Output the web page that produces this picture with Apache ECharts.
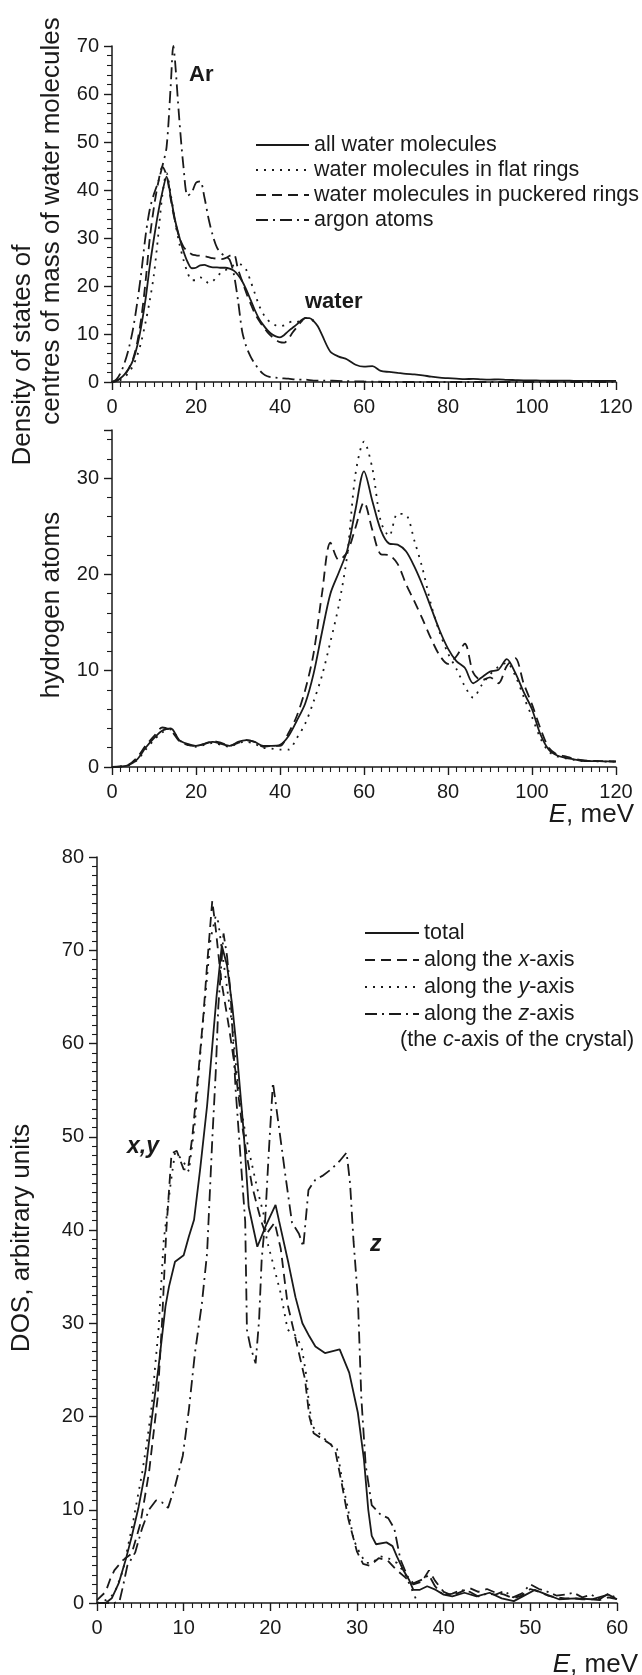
<!DOCTYPE html>
<html lang="en">
<head>
<meta charset="UTF-8">
<title>DOS of water and argon</title>
<script src="https://cdn.jsdelivr.net/npm/echarts@6/dist/echarts.min.js"></script>
<style>
    html, body { margin: 0; padding: 0; background: #fff; }
    #chart { width: 642px; height: 1675px; }
</style>
</head>
<body>
<div id="chart"></div>
<script>
// ---- panel 1: centres of mass of water molecules + argon ----
const p1E = [0,1,2,3,4,5,6,7,8,9,10,11,12,13,14,15,16,17,18,19,20,21,22,23,24,25,26,27,28,29,30,31,32,33,34,35,36,37,38,39,40,41,42,43,44,45,46,47,48,49,50,
    52,54,56,58,60,62,64,66,68,70,72,74,76,78,80,82,84,86,88,90,92,94,96,98,100,102,104,106,108,110,112,114,116,118,120];
const allWater = [0,0.3,0.8,1.6,2.8,4.5,7.5,11.8,17.3,24.2,
    30,35.3,39.6,42.8,38.5,33.8,30.3,27.3,25,23.7,
    23.8,24.3,24.4,24.1,23.9,23.9,23.8,23.8,23.6,23.2,
    22.3,21,19.2,17.1,15,13.2,11.9,10.8,10,9.5,
    9.3,9.8,10.6,11.3,12,12.8,13.3,13.3,12.7,11.6,9.8,
    6.3,5.3,4.7,3.6,3.2,3.3,2.3,2.1,1.9,1.7,
    1.6,1.4,1.1,0.9,0.8,0.7,0.6,0.65,0.55,0.5,
    0.55,0.45,0.4,0.35,0.35,0.3,0.3,0.3,0.3,0.25,
    0.25,0.25,0.25,0.25,0.25];
const flatRings = [0,0.1,0.4,1,2,3.4,5.5,8.5,12.5,17,
    22.5,30.5,39,43.5,39,33.5,29,25.5,22.8,21.2,
    21.2,21.8,21.4,20.6,21,22,22.8,23.3,23.8,24.3,
    24.5,24.4,23.3,21,18.5,16,14.2,13,12.2,11.8,
    11.6,11.8,12.3,12.6,12.5,12.8,13.3,13.3,12.7];
const puckeredRings = [0,0.2,0.7,1.5,2.8,4.8,8.2,13.5,21,30,
    36.5,41.5,44.8,43,38,33.5,30.2,28.2,27.2,26.6,
    26.4,26.3,26.2,26,25.8,25.7,25.6,25.8,26.3,26.6,
    23.5,21,18.5,16.3,14.3,12.8,11.5,10.4,9.5,8.8,
    8.3,8.2,9,10.3,11.4,12.5,13.3,13.3,12.7];
const argonE = [0,1,2,3,4,5,6,7,8,9,10,11,12,13,14,14.6,15,16,17,18,19,20,21,22,23,24,25,26,27,28,29,30,31,32,33,34,35,36,37,38,39,40,
    42,44,46,48,50,55,60,70,80,100,120];
const argon = [0,0.5,1.8,4,7,11,16.5,23,30.5,36,
    39.2,41.7,45,49,62,70,67,55,45,38.8,
    39.5,41.5,41.8,38.5,34,30.5,28,26.8,26.2,25.5,
    22.5,17,10.5,7.3,5.3,3.8,2.6,1.7,1.2,1,
    0.9,0.8,0.7,0.5,0.5,0.3,0.3,0.2,0.1,0,
    0,0,0];

// ---- panel 2: hydrogen atoms ----
const p2E = [0,2,4,6,8,10,12,14,16,18,20,22,24,26,28,30,32,34,36,38,40,42,44,46,48,50,52,54,56,58,
    60,62,64,66,68,70,72,74,76,78,80,82,84,86,88,90,92,94,96,98,100,102,104,106,108,110,112,114,116,118,120];
const hAll = [0,0.05,0.2,0.8,2,3,3.8,4,2.8,2.4,
    2.2,2.4,2.6,2.4,2.2,2.6,2.8,2.6,2.2,2.2,
    2.3,3.2,4.8,6.6,9.7,14,18,20.2,22.5,26.8,
    30.7,27.6,24.6,23.2,23.1,22.4,20.8,18.8,16.5,14.2,
    12.3,11,10.3,8.7,9.3,9.9,10.1,11.2,9.8,7.8,
    6,3.4,1.8,1.2,0.95,0.8,0.65,0.62,0.6,0.58,0.56];
const hFlat = [0,0.05,0.2,0.7,1.8,2.8,3.6,3.9,2.8,2.3,
    2.1,2.3,2.5,2.3,2.1,2.5,2.6,2.4,2,1.9,
    1.8,1.8,3,4.5,6.8,9.5,13,16.8,22,30.5,
    33.8,31,25.5,24,26.3,26.2,23.5,20.5,16.8,14,
    11.8,10.2,8.4,7.2,8.5,9.6,10.4,10.8,9.5,7.3,
    5.2,3,1.6,1.1,0.9,0.75,0.62,0.6,0.58,0.56,0.55];
const hPuckered = [0,0.05,0.25,1,2.2,3.2,4.1,3.8,2.7,2.3,
    2.2,2.4,2.7,2.5,2.2,2.5,2.8,2.6,2.1,2.2,
    2.2,3.5,5.3,8,11.8,18,23.3,21.5,22.3,24.9,
    27.5,24.6,22.1,22,21.1,19,17.2,15.3,13.3,11.6,
    10.7,11.5,12.8,9.8,9,9.3,8.7,10.5,11.3,8.7,
    6.5,4,2,1.3,1.1,0.85,0.7,0.65,0.62,0.6,0.58];

// ---- panel 3: directional DOS ----
const totalE = [0,1,1.7,2.5,3.3,4,4.8,5.6,6.3,7.1,7.9,8.3,9,10,10.6,11.2,11.9,12.7,13.3,13.8,
    14.4,15,15.6,16,16.5,16.9,17.5,18.5,19.5,20.6,21,22.1,22.9,23.7,24.5,25.2,26.3,28,29.1,30.1,
    30.8,31.3,31.7,32.2,33.4,34.1,34.6,35.3,36,36.5,37.2,38.1,39.1,40,41,42.4,43.8,45.3,46.7,48.1,
    49.5,50.5,51.9,53.3,55.2,57.1,59,60];
const total = [0,0,0.5,2.1,4.6,7.1,10.3,14.2,19.6,25.3,31.8,33.9,36.6,37.3,39.3,41.1,46.5,53.3,59.7,65.1,
    70.5,68.4,64.1,60.5,55.1,50.8,42.5,38.2,40.5,42.7,41,36.4,32.8,30,28.6,27.5,26.8,27.2,24.7,20.4,
    15.4,10,7.2,6.3,6.5,6.1,5,3.6,2.5,1.4,1.4,1.8,1.4,0.9,0.7,1.1,0.7,1.1,0.5,0.2,
    0.9,1.4,0.9,0.4,0.5,0.4,0.9,0.4];
const alongXE = [0,1,1.5,2,3,4,5,6,7,7.5,8,8.6,9.2,10,10.5,11,11.7,12.3,12.7,13.3,
    13.7,14.3,15.2,16,16.7,17.3,17.9,18.5,19,19.5,20.5,21.2,22,23,24,24.5,25,26,27,27.5,
    28.2,29,30,30.7,31.5,32.5,33.5,34.5,35.5,36.5,37.5,38.3,39,40,41,42,43,44,45,46,
    47,48,49,50,51,52,53,54,55,56,57,58,59,60];
const alongX = [0.3,1.2,2.5,3.5,4.6,5.3,8.5,14,22,30,40,48.2,48.5,46.5,46.5,50,56.9,63.3,68.4,75.3,
    72.3,67,61.9,56.9,51.5,47.9,44.7,42.5,40.8,39.5,40.8,38,32,28,24,20,18.2,17.6,17,16.3,
    13,9,5.5,4.2,4,4.8,4.6,3.6,2.8,2,2.3,3.5,2.4,1.2,0.8,1.2,1.6,1.2,1.5,1.1,
    0.9,0.5,0.8,1.5,1.2,0.8,0.6,0.5,0.5,0.4,0.4,0.3,0.6,0.4];
const alongYE = [0,1,2,3,4.2,5.2,5.8,6.3,6.7,7.1,7.7,8.5,9,9.8,10.6,11.3,11.9,12.5,13.1,13.7,
    14,14.4,15,15.6,16.3,16.9,17.5,18.1,18.7,19.2,19.6,20.2,21.2,22,22.9,23.6,24.1,24.4,24.8,25.5,
    26.7,27.7,28.4,28.9,29.6,30.3,31,31.7,32.7,33.6,34.6,35.5,36.3,37];
const alongY = [0,0.3,1,3.5,8.9,13.9,17.5,21,25.3,29.3,38.9,45,48.3,47.6,46.3,51.5,58.7,65.1,71.2,73.7,
    73,70.1,66,61.9,55.1,51.5,48.6,46.1,43.6,41.8,38.9,36.8,33.2,29.3,28.7,27.5,24.7,21.9,19,18.3,
    17.2,16.5,12.5,10.4,6.8,5.4,4.3,4.3,5,4.8,4.3,3.2,1.5,0];
const alongZE = [0,1,2,2.6,3,3.5,4.4,5.2,6,6.8,7.5,8.2,9,9.9,10.6,11.3,12.1,12.7,13.3,13.7,
    14,14.6,15,15.4,16,16.7,17.1,17.3,17.7,18.3,18.7,19,19.4,19.8,20.3,21,21.7,22.5,23.3,23.8,
    24.4,25.2,26,27,28,28.8,29.2,29.6,30.1,30.5,31,31.7,32.7,33.6,34.3,35,35.8,36.5,37.5,38.3,
    39,40,41,42,43,44,45,46,47,48,49,50,51,52,53,54,55,56,57,58,59,60];
const alongZ = [0,0,0,0.2,1.8,4,5.4,8,10,11,10.8,10.2,12.5,15.8,20.7,26.8,32.1,37.5,49.7,56.9,
    64,71.8,69.4,65.5,55,46,40.9,29.3,27.5,25.7,30.3,36.8,41,48,55.8,51,46.1,40.8,39.6,38.2,
    44.3,45.4,45.8,46.5,47.4,48.3,45,38.8,32.7,22,14.8,10.5,9.5,9.1,8,4.7,2.9,2.1,2.5,3,
    1.8,0.8,1,1.4,1.2,0.7,1,0.9,1.3,0.6,1,2,1.5,1.2,0.8,0.9,1.1,0.6,0.9,0.4,1,0.5];

const FONT = "'Liberation Sans', Arial, sans-serif";
const INK = '#1a1a1a';
const DOT = [2, 6], DASH = [10, 6], DASHDOT = [12, 5, 2, 5];

function pts(xs, ys) {
    return ys.map(function (v, i) { return [xs[i], v]; });
}

function xAx(gi, max, step, minor) {
    return {
        type: 'value', gridIndex: gi, min: 0, max: max, interval: step,
        axisLine: { lineStyle: { color: INK, width: 1.5 } },
        axisTick: { length: 8, lineStyle: { color: INK, width: 1.4 } },
        minorTick: { show: true, splitNumber: minor, length: 5, lineStyle: { color: INK, width: 1.1 } },
        splitLine: { show: false },
        axisLabel: { fontSize: 20, color: INK, fontFamily: FONT, margin: 15 }
    };
}

function yAx(gi, max, step, minor) {
    let a = xAx(gi, max, step, minor);
    a.axisLabel.margin = 13;
    a.axisLabel.showMaxLabel = (max % step === 0);
    return a;
}

function ln(name, gi, data, dash, smooth) {
    return {
        name: name, type: 'line', xAxisIndex: gi, yAxisIndex: gi, data: data,
        symbol: 'none', smooth: smooth, animation: false,
        lineStyle: { color: INK, width: 1.8, type: dash }
    };
}

function title(text, x, y, size, rot) {
    return {
        type: 'text', x: x, y: y, rotation: rot ? Math.PI / 2 : 0,
        style: { text: text, font: size + 'px ' + FONT, fill: INK, align: 'center', verticalAlign: 'middle' }
    };
}

function note(text, x, y, font, align) {
    return {
        type: 'text', x: x, y: y,
        style: { text: text, font: font + ' ' + FONT, fill: INK, align: align || 'left', verticalAlign: 'middle',
                 rich: { i: { font: 'italic ' + font + ' ' + FONT, fill: INK } } }
    };
}

let legendText = { fontSize: 21.5, color: INK, fontFamily: FONT,
    rich: { i: { fontSize: 21.5, color: INK, fontFamily: FONT, fontStyle: 'italic' } } };

var myChart = echarts.init(document.getElementById('chart'));
var option = {
    backgroundColor: '#fff',
    animation: false,
    grid: [
        { left: 112, top: 46, width: 504, height: 336, outerBoundsMode: 'none' },
        { left: 112, top: 430, width: 504, height: 337, outerBoundsMode: 'none' },
        { left: 97, top: 857, width: 520, height: 746, outerBoundsMode: 'none' }
    ],
    xAxis: [xAx(0, 120, 20, 10), xAx(1, 120, 20, 10), xAx(2, 60, 10, 10)],
    yAxis: [yAx(0, 70, 10, 5), yAx(1, 35, 10, 5), yAx(2, 80, 10, 10)],
    legend: [
        {
            left: 250, top: 129, orient: 'vertical', itemWidth: 53, itemHeight: 14, itemGap: 3,
            selectedMode: false, textStyle: legendText, itemStyle: { opacity: 0 },
            data: ['all water molecules', 'water molecules in flat rings', 'water molecules in puckered rings', 'argon atoms']
        },
        {
            left: 359, top: 917, orient: 'vertical', itemWidth: 54, itemHeight: 14, itemGap: 5,
            selectedMode: false, textStyle: legendText, itemStyle: { opacity: 0 },
            data: ['total', 'along the x-axis', 'along the y-axis', 'along the z-axis'],
            formatter: function (n) {
                return n === 'total' ? n : 'along the {i|' + n.charAt(10) + '}-axis';
            }
        }
    ],
    series: [
        ln('all water molecules', 0, pts(p1E, allWater), 'solid', 0.3),
        ln('water molecules in flat rings', 0, pts(p1E, flatRings), DOT, 0.3),
        ln('water molecules in puckered rings', 0, pts(p1E, puckeredRings), DASH, 0.3),
        ln('argon atoms', 0, pts(argonE, argon), DASHDOT, 0.3),
        ln('hydrogen all', 1, pts(p2E, hAll), 'solid', 0.3),
        ln('hydrogen flat', 1, pts(p2E, hFlat), DOT, 0.3),
        ln('hydrogen puckered', 1, pts(p2E, hPuckered), DASH, 0.3),
        ln('total', 2, pts(totalE, total), 'solid', false),
        ln('along the x-axis', 2, pts(alongXE, alongX), DASH, false),
        ln('along the y-axis', 2, pts(alongYE, alongY), DOT, false),
        ln('along the z-axis', 2, pts(alongZE, alongZ), DASHDOT, false)
    ],
    graphic: [
        // axis titles
        title('Density of states of', 23, 355, 26, true),
        title('centres of mass of water molecules', 52, 221, 26, true),
        title('hydrogen atoms', 52, 605, 26, true),
        title('DOS, arbitrary units', 22, 1238, 26, true),
        note('{i|E}, meV', 634, 815, '26px', 'right'),
        note('{i|E}, meV', 638, 1665, '26px', 'right'),
        // curve labels
        note('Ar', 189, 75, 'bold 22px'),
        note('water', 305, 302, 'bold 22px'),
        note('x,y', 127, 1147, 'italic bold 23px'),
        note('z', 370, 1245, 'italic bold 23px'),
        // second line of the z-axis legend entry
        note('(the {i|c}-axis of the crystal)', 400, 1040, '21.5px')
    ]
};
myChart.setOption(option);
</script>
</body>
</html>
